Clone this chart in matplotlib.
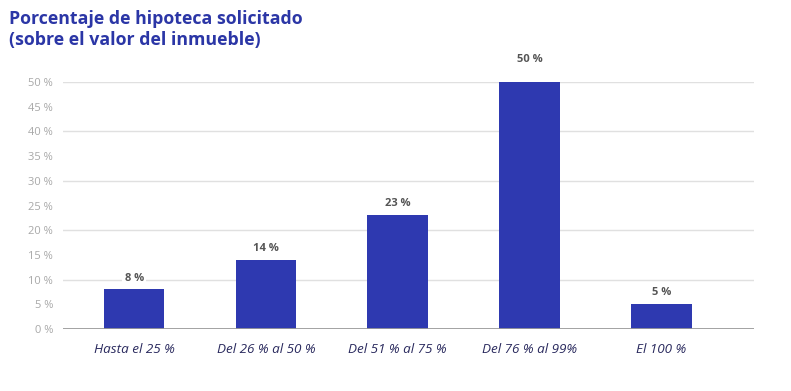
import matplotlib.pyplot as plt

categories = ["Hasta el 25 %", "Del 26 % al 50 %", "Del 51 % al 75 %", "Del 76 % al 99%", "El 100 %"]
values = [8, 14, 23, 50, 5]
value_labels = ["8 %", "14 %", "23 %", "50 %", "5 %"]
yticks = [0, 5, 10, 15, 20, 25, 30, 35, 40, 45, 50]
ytick_labels = ["%d %%" % t for t in yticks]
grid_lines = [10, 20, 30, 40, 50]

bar_color = "#2e39b0"
title_color = "#2b36a6"

plt.rcParams['font.family'] = ['Open Sans', 'DejaVu Sans']

fig = plt.figure(figsize=(7.91, 3.91), dpi=100)
ax = fig.add_axes([0.0796, 0.1586, 0.873, 0.6314])

x = list(range(len(categories)))
for g in grid_lines:
    ax.axhline(g, color="#e0e0e0", lw=1, zorder=0)
ax.bar(x, values, width=0.46, color=bar_color, zorder=2)
ax.axhline(0, color="#999999", lw=2, zorder=3)

for xi, v, lab in zip(x, values, value_labels):
    off = 3.5 if v == 50 else 1.2
    ax.text(xi, v + off, lab, ha="center", va="bottom", fontsize=8, fontweight="bold",
            color="#555555", zorder=4,
            bbox=dict(facecolor="white", edgecolor="none", pad=1.5))

ax.set_xlim(-0.54, 4.70)
ax.set_ylim(0, 50)
ax.set_yticks(yticks)
ax.set_yticklabels(ytick_labels, fontsize=8, color="#a8a8a8")
ax.set_xticks(x)
ax.set_xticklabels(categories, fontsize=9.7, style="italic", color="#2a2a5e")
ax.tick_params(axis="both", length=0)
ax.tick_params(axis="y", pad=7)
ax.tick_params(axis="x", pad=10)
for s in ax.spines.values():
    s.set_visible(False)

fig.text(0.011, 0.975, "Porcentaje de hipoteca solicitado\n(sobre el valor del inmueble)",
         ha="left", va="top", fontsize=12.8, fontweight="bold", color=title_color,
         linespacing=1.25)

fig.savefig("out.png", dpi=100)
